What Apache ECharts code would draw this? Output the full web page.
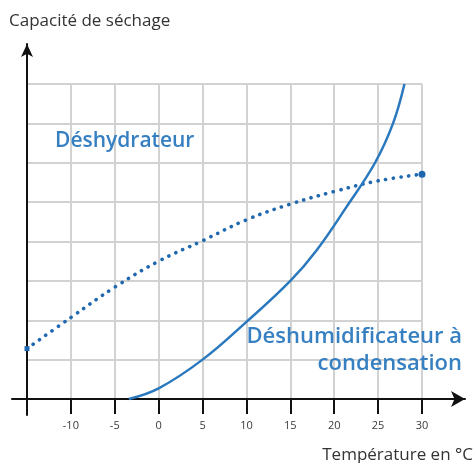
<!DOCTYPE html>
<html>
<head>
<meta charset="utf-8">
<script src="https://cdn.jsdelivr.net/npm/echarts@6/dist/echarts.min.js"></script>
<style>html,body{margin:0;padding:0;background:#fff;}#c{width:475px;height:463px;}</style>
</head>
<body>
<div id="c"></div>
<script>
// Temperatures (°C) and drying capacity (grid units 0..8)
const xTicks = [-15, -10, -5, 0, 5, 10, 15, 20, 25, 30];
const dehydratorX = [-15, -10, -5, 0, 5, 10, 15, 20, 25, 30];
const dehydratorY = [1.28, 2.07, 2.84, 3.5, 4.02, 4.55, 4.95, 5.27, 5.54, 5.71];
const condenserX = [-3.4, 0, 5, 10, 15, 18, 21.4, 24.65, 26.7, 28.0];
const condenserY = [0, 0.27, 1.0, 1.96, 3.0, 3.78, 4.88, 6.0, 7.0, 8.0];
const labelDehydrator = 'Déshydrateur';
const labelCondenser = ['Déshumidificateur à', 'condensation'];
const yTitle = 'Capacité de séchage';
const xTitle = 'Température en °C';

const BLUE = '#2a78be';
const DOT = '#1f68b0';
const TXT = '#3680c2';
const FONT = '"Open Sans", "Noto Sans", sans-serif';

const dehyData = dehydratorX.map((x, i) => {
  const item = { value: [x, dehydratorY[i]], symbol: 'none' };
  if (i === 0) { item.symbol = 'rect'; item.symbolSize = 5; }
  if (i === dehydratorX.length - 1) { item.symbol = 'circle'; item.symbolSize = 7; }
  return item;
});
const condData = condenserX.map((x, i) => [x, condenserY[i]]);

const chart = echarts.init(document.getElementById('c'), null, { renderer: 'canvas' });
chart.setOption({
  animation: false,
  backgroundColor: '#fff',
  grid: [
    { left: 27, right: 53, top: 84, bottom: 64 },
    { left: 12, right: 10, top: 84, bottom: 64 },
    { left: 27, right: 53, top: 44, bottom: 48 }
  ],
  xAxis: [
    {
      gridIndex: 0, type: 'value', min: -15, max: 30, interval: 5,
      axisLine: { show: false },
      axisTick: { show: true, inside: false, length: 15, lineStyle: { color: '#111', width: 2 } },
      axisLabel: {
        show: true, margin: 21, fontSize: 11, color: '#3a3a3a', fontFamily: FONT,
        formatter: v => (v === -15 ? '' : String(v))
      },
      splitLine: { show: true, lineStyle: { color: '#d2d2d2', width: 2 } }
    },
    {
      gridIndex: 1, type: 'value', min: 0, max: 1,
      axisLine: { show: true, symbol: ['none', 'arrow'], symbolSize: [12, 14], lineStyle: { color: '#111', width: 2 } },
      axisTick: { show: false }, axisLabel: { show: false }, splitLine: { show: false }
    },
    { gridIndex: 2, type: 'value', show: false, min: 0, max: 1 }
  ],
  yAxis: [
    {
      gridIndex: 0, type: 'value', min: 0, max: 8, interval: 1,
      axisLine: { show: false }, axisTick: { show: false }, axisLabel: { show: false },
      splitLine: { show: true, lineStyle: { color: '#d2d2d2', width: 2 } }
    },
    { gridIndex: 1, type: 'value', show: false, min: 0, max: 1 },
    {
      gridIndex: 2, type: 'value', min: 0, max: 1,
      axisLine: { show: true, symbol: ['none', 'arrow'], symbolSize: [9, 13], lineStyle: { color: '#111', width: 2 } },
      axisTick: { show: false }, axisLabel: { show: false }, splitLine: { show: false }
    }
  ],
  series: [
    {
      type: 'line', xAxisIndex: 0, yAxisIndex: 0, data: dehyData,
      smooth: 0.4, showAllSymbol: true, z: 3,
      itemStyle: { color: DOT },
      lineStyle: { color: DOT, width: 3.6, type: [0.1, 7.6], cap: 'round' }
    },
    {
      type: 'line', xAxisIndex: 0, yAxisIndex: 0, data: condData,
      smooth: 0.4, symbol: 'none', clip: false, z: 3,
      lineStyle: { color: BLUE, width: 2.5 }
    }
  ],
  graphic: [
    { type: 'text', z: 100, x: 9, y: 21, style: { text: yTitle, font: '17px ' + FONT, fill: '#333', textAlign: 'left', textVerticalAlign: 'middle' } },
    { type: 'text', z: 100, x: 473, y: 455, style: { text: xTitle, font: '17px ' + FONT, fill: '#333', textAlign: 'right', textVerticalAlign: 'middle' } },
    { type: 'text', z: 100, x: 55, y: 141, style: { text: labelDehydrator, font: '600 21px ' + FONT, fill: TXT, textAlign: 'left', textVerticalAlign: 'middle' } },
    { type: 'text', z: 100, x: 462, y: 337, style: { text: labelCondenser[0], font: '600 22px ' + FONT, fill: TXT, textAlign: 'right', textVerticalAlign: 'middle' } },
    { type: 'text', z: 100, x: 462, y: 364, style: { text: labelCondenser[1], font: '600 22px ' + FONT, fill: TXT, textAlign: 'right', textVerticalAlign: 'middle' } }
  ]
});
</script>
</body>
</html>
